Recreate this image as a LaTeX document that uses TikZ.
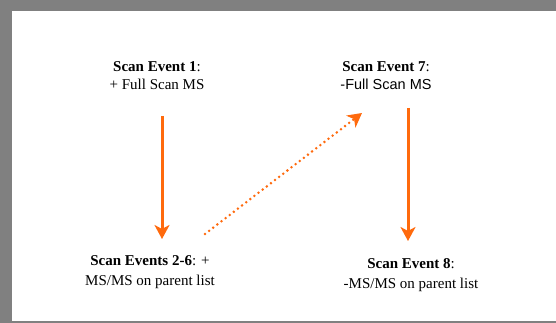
\documentclass[tikz,border=0pt]{standalone}
\usepackage{fontspec}
\setmainfont{Liberation Serif}
\newfontfamily\arialfont{Liberation Sans}
\usetikzlibrary{arrows.meta}
\definecolor{frame}{HTML}{808080}
\definecolor{orng}{HTML}{FF6A0D}
\tikzset{
  lbl/.style={align=center, inner sep=0pt, font=\fontsize{15}{18}\selectfont},
  lblb/.style={align=center, inner sep=0pt, font=\fontsize{15}{19.5}\selectfont},
  solidarrow/.style={draw=orng, line width=3pt, -{Stealth[length=14pt,width=15pt,inset=4pt]}},
  dotarrow/.style={draw=orng, line width=2.8pt, line cap=round, dash pattern=on 0pt off 5.2pt, -{Stealth[length=14pt,width=15pt,inset=4pt]}},
}
\begin{document}
\begin{tikzpicture}[x=1pt,y=-1pt]
\useasboundingbox (0,0) rectangle (556,323);
\fill[frame] (0,0) rectangle (556,323);
\fill[white] (12,11) rectangle (556,321);
\node[lbl] (se1) at (157,76) {\textbf{Scan Event 1}:\\+ Full Scan MS};
\node[lbl] (se7) at (386,76) {\textbf{Scan Event 7}:\\{\arialfont\fontsize{14.5}{18}\selectfont -Full Scan MS}};
\node[lblb] (se26) at (150,272) {\textbf{Scan Events 2-6}: +\\MS/MS on parent list};
\node[lblb] (se8) at (411,275) {\textbf{Scan Event 8}:\\-MS/MS on parent list};
\coordinate (a1s) at (162,116);
\coordinate (a1e) at (162,239);
\coordinate (a2s) at (408,108);
\coordinate (a2e) at (408,241);
\coordinate (a3s) at (205,234);
\coordinate (a3e) at (362,113);
\draw[solidarrow] (a1s) -- (a1e);
\draw[solidarrow] (a2s) -- (a2e);
\draw[dotarrow] (a3s) -- (a3e);
\end{tikzpicture}
\end{document}
